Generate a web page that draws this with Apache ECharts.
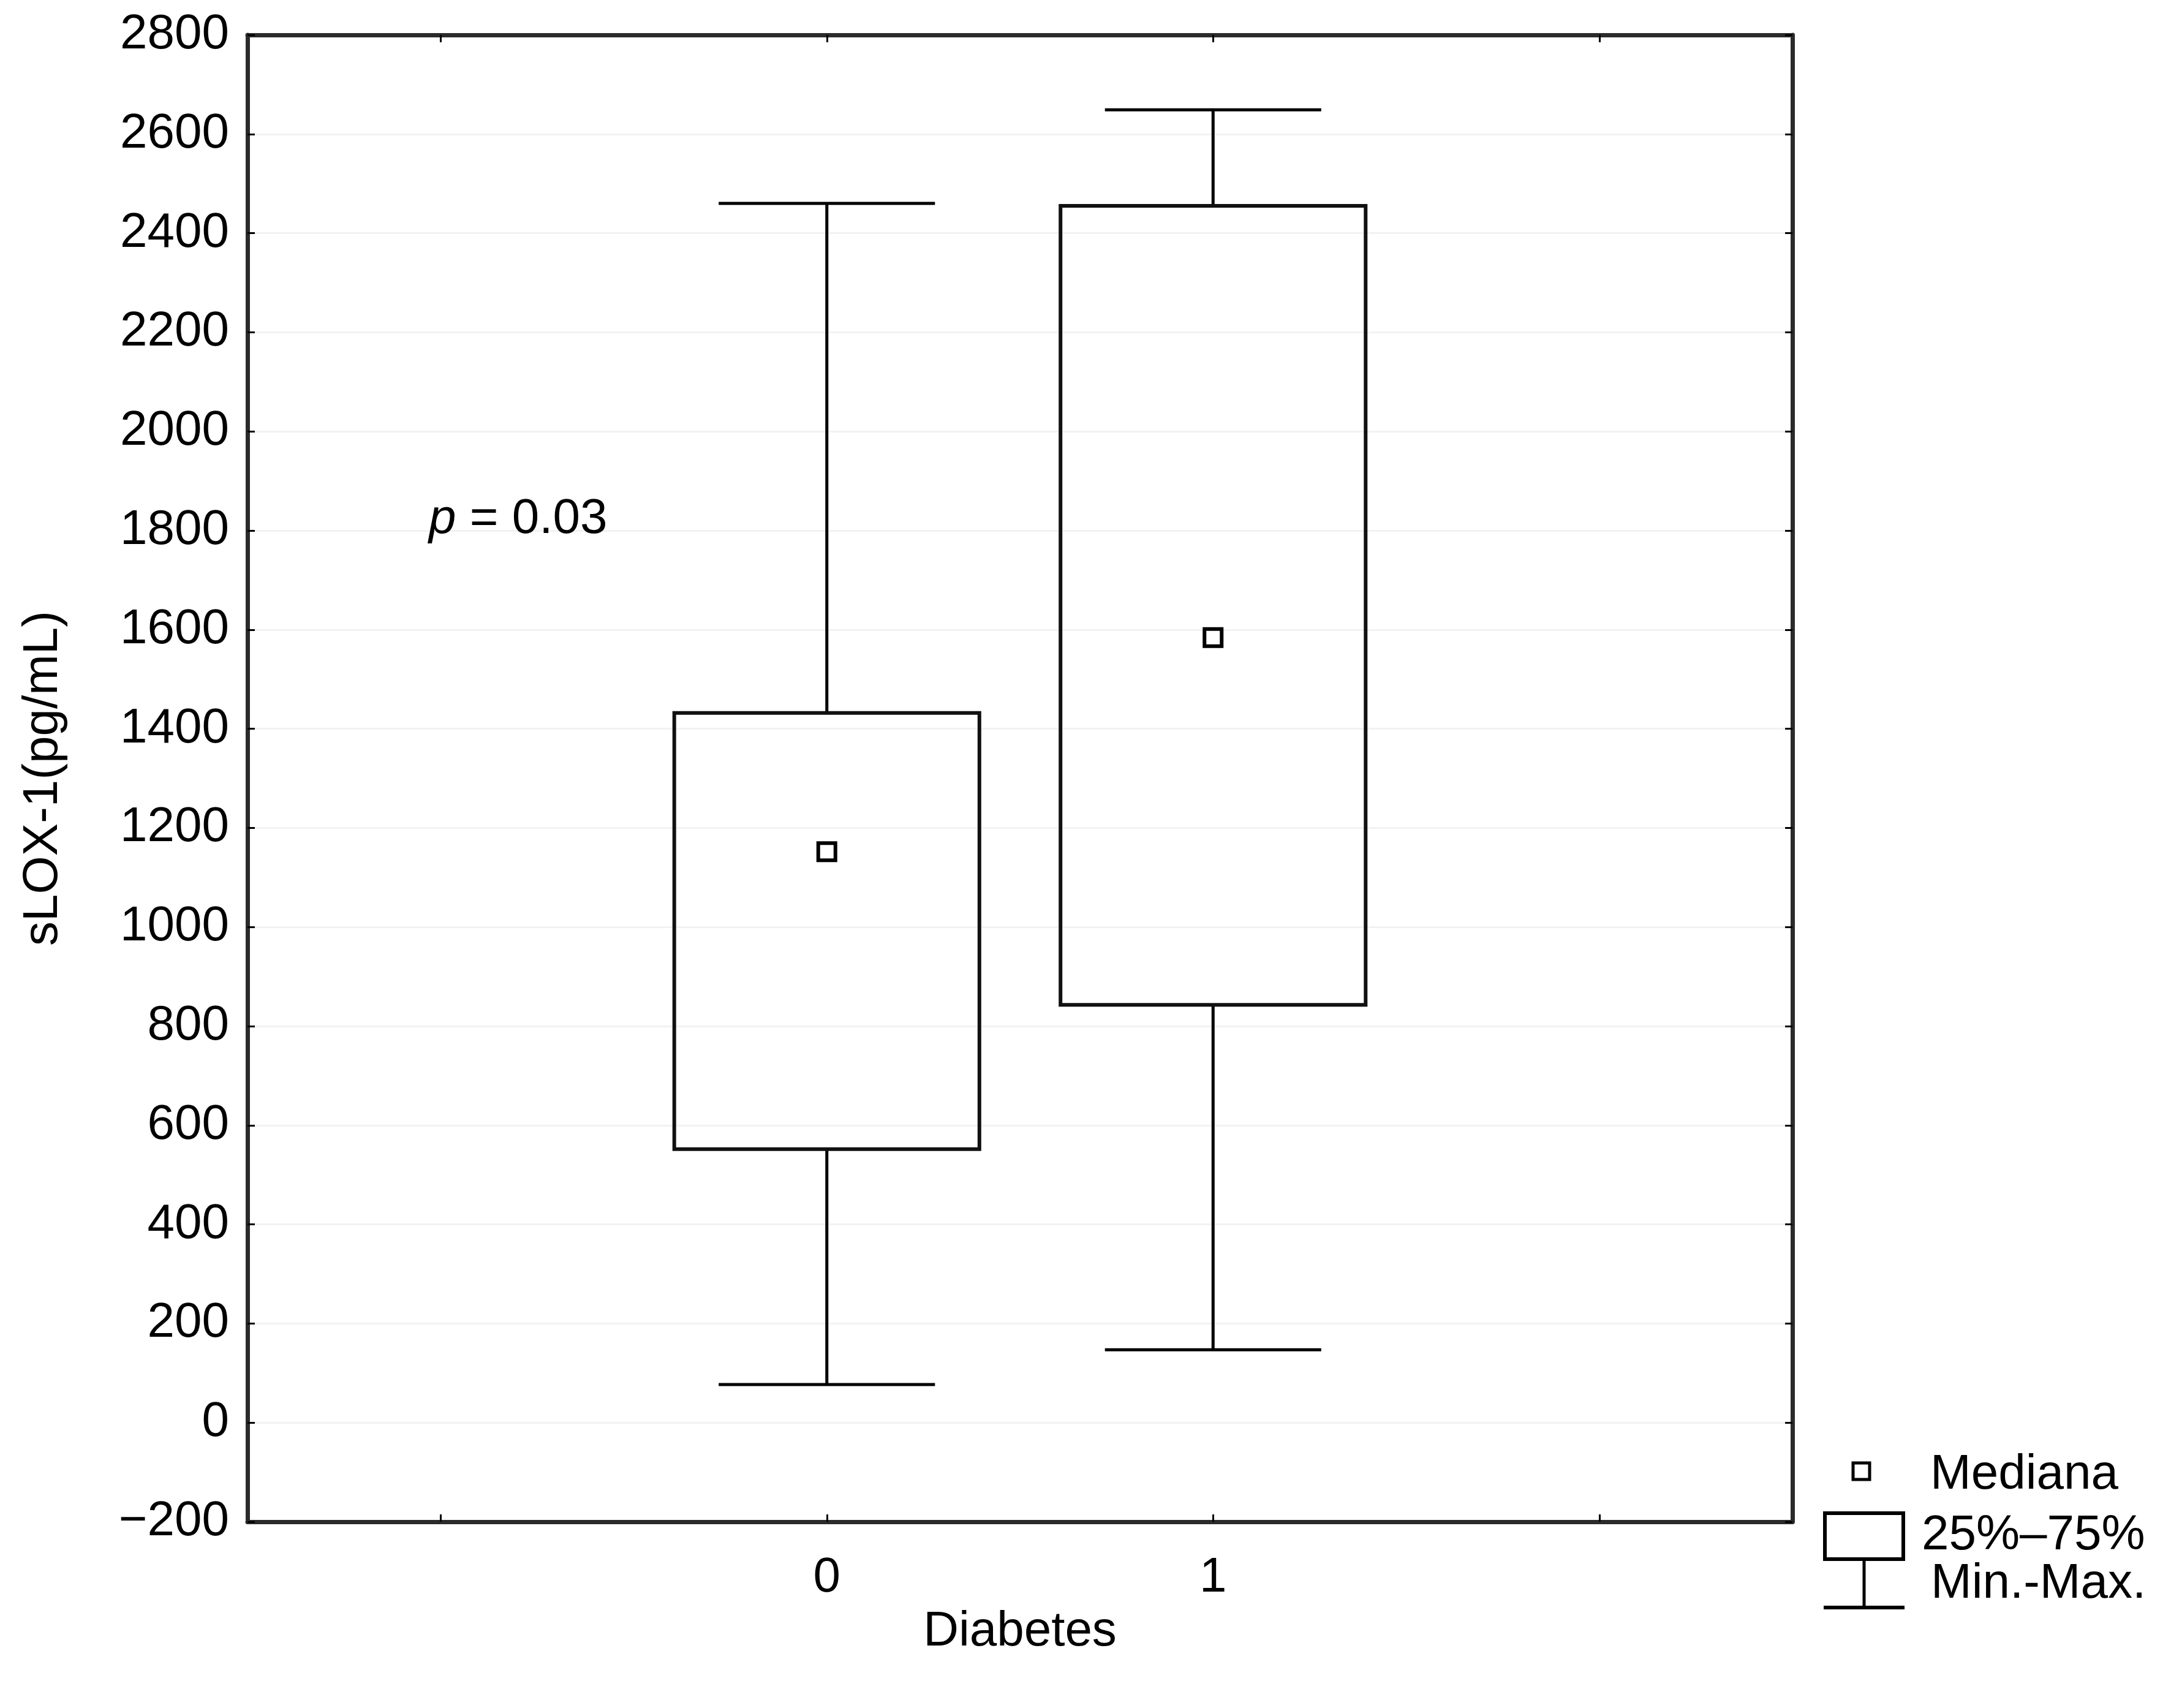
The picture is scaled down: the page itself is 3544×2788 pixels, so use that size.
<!DOCTYPE html>
<html>
<head>
<meta charset="utf-8">
<script src="https://cdn.jsdelivr.net/npm/echarts@6/dist/echarts.min.js"></script>
<style>
html, body { margin: 0; padding: 0; background: #fff; }
#main { width: 3544px; height: 2788px; }
</style>
</head>
<body>
<div id="main"></div>
<script>
// categories: empty slots at the ends keep the plot padded like the original
const categories = ['', '0', '1', ''];
const groupSlot = [1, 2];
const minValues = [77, 147];
const q1Values = [552, 843];
const medianValues = [1152, 1584];
const q3Values = [1432, 2455];
const maxValues = [2460, 2649];

const yTicks = { min: -200, max: 2800, step: 200 };
const font = 'Liberation Sans, Arial, sans-serif';

const boxData = groupSlot.map((slot, i) => [
  slot, minValues[i], q1Values[i], medianValues[i], q3Values[i], maxValues[i]
]);

function renderBox(params, api) {
  const x = api.value(0);
  const pMin = api.coord([x, api.value(1)]);
  const pQ1 = api.coord([x, api.value(2)]);
  const pMed = api.coord([x, api.value(3)]);
  const pQ3 = api.coord([x, api.value(4)]);
  const pMax = api.coord([x, api.value(5)]);
  const band = api.size([1, 0])[0];
  const boxW = band * 0.79;
  const capW = band * 0.56;
  const cx = pMin[0];
  const whisker = { stroke: '#000', lineWidth: 5, fill: null };
  const sq = 28;
  return {
    type: 'group',
    children: [
      { type: 'line', shape: { x1: cx, y1: pMin[1], x2: cx, y2: pQ1[1] }, style: whisker },
      { type: 'line', shape: { x1: cx, y1: pQ3[1], x2: cx, y2: pMax[1] }, style: whisker },
      { type: 'line', shape: { x1: cx - capW / 2, y1: pMin[1], x2: cx + capW / 2, y2: pMin[1] }, style: whisker },
      { type: 'line', shape: { x1: cx - capW / 2, y1: pMax[1], x2: cx + capW / 2, y2: pMax[1] }, style: whisker },
      { type: 'rect', shape: { x: cx - boxW / 2, y: pQ3[1], width: boxW, height: pQ1[1] - pQ3[1] },
        style: { stroke: '#111', lineWidth: 6, fill: 'rgba(0,0,0,0)' } },
      { type: 'rect', shape: { x: pMed[0] - sq / 2, y: pMed[1] - sq / 2, width: sq, height: sq },
        style: { stroke: '#000', lineWidth: 6, fill: '#fff' } }
    ]
  };
}

const axisLine = { show: true, onZero: false, lineStyle: { color: '#2b2b2b', width: 7 } };
const tickIn = { show: true, inside: true, length: 12, alignWithLabel: true, lineStyle: { color: '#000', width: 3 } };

const chart = echarts.init(document.getElementById('main'));
chart.setOption({
  backgroundColor: '#fff',
  animation: false,
  grid: { left: 404, right: 618, top: 57, bottom: 304, containLabel: false },
  xAxis: [
    {
      type: 'category',
      data: categories,
      position: 'bottom',
      name: 'Diabetes',
      nameLocation: 'middle',
      nameGap: 140,
      nameTextStyle: { color: '#000', fontSize: 80, fontFamily: font },
      axisLine: axisLine,
      axisTick: tickIn,
      axisLabel: { color: '#000', fontSize: 80, fontFamily: font, margin: 52 },
      splitLine: { show: false }
    },
    {
      type: 'category',
      data: categories,
      position: 'top',
      axisLine: axisLine,
      axisTick: tickIn,
      axisLabel: { show: false },
      splitLine: { show: false }
    }
  ],
  yAxis: [
    {
      type: 'value',
      min: yTicks.min,
      max: yTicks.max,
      interval: yTicks.step,
      name: 'sLOX-1(pg/mL)',
      nameLocation: 'middle',
      nameGap: 293,
      nameTextStyle: { color: '#000', fontSize: 80, fontFamily: font },
      axisLine: axisLine,
      axisTick: { show: true, inside: true, length: 12, lineStyle: { color: '#000', width: 3 } },
      axisLabel: {
        color: '#000', fontSize: 80, fontFamily: font, margin: 30,
        formatter: v => String(v).replace('-', '\u2212')
      },
      splitLine: { show: true, lineStyle: { color: '#f2f2f2', width: 3 } }
    },
    {
      type: 'value',
      min: yTicks.min,
      max: yTicks.max,
      interval: yTicks.step,
      position: 'right',
      axisLine: axisLine,
      axisTick: { show: true, inside: true, length: 12, lineStyle: { color: '#000', width: 3 } },
      axisLabel: { show: false },
      splitLine: { show: false }
    }
  ],
  series: [
    {
      type: 'custom',
      xAxisIndex: 0,
      yAxisIndex: 0,
      renderItem: renderBox,
      encode: { x: 0, y: [1, 2, 3, 4, 5] },
      data: boxData
    }
  ],
  graphic: [
    {
      type: 'text', x: 700, y: 848, z: 100,
      style: {
        text: '{i|p} = 0.03',
        fontSize: 80, fontFamily: font, fill: '#000', verticalAlign: 'middle',
        rich: { i: { fontStyle: 'italic', fontSize: 80, fontFamily: font } }
      }
    },
    // legend
    { type: 'rect', z: 100, shape: { x: 3025, y: 2388, width: 27, height: 27 }, style: { stroke: '#000', lineWidth: 5, fill: '#fff' } },
    { type: 'text', z: 100, x: 3151, y: 2408, style: { text: 'Mediana', fontSize: 80, fontFamily: font, fill: '#000', verticalAlign: 'middle' } },
    { type: 'rect', z: 100, shape: { x: 2979, y: 2470, width: 128, height: 75 }, style: { stroke: '#000', lineWidth: 6, fill: '#fff' } },
    { type: 'text', z: 100, x: 3137, y: 2507, style: { text: '25%\u201375%', fontSize: 80, fontFamily: font, fill: '#000', verticalAlign: 'middle' } },
    { type: 'line', z: 100, shape: { x1: 3043, y1: 2545, x2: 3043, y2: 2624 }, style: { stroke: '#000', lineWidth: 5 } },
    { type: 'line', z: 100, shape: { x1: 2977, y1: 2624, x2: 3109, y2: 2624 }, style: { stroke: '#000', lineWidth: 6 } },
    { type: 'text', z: 100, x: 3152, y: 2586, style: { text: 'Min.-Max.', fontSize: 80, fontFamily: font, fill: '#000', verticalAlign: 'middle' } }
  ]
});
</script>
</body>
</html>
